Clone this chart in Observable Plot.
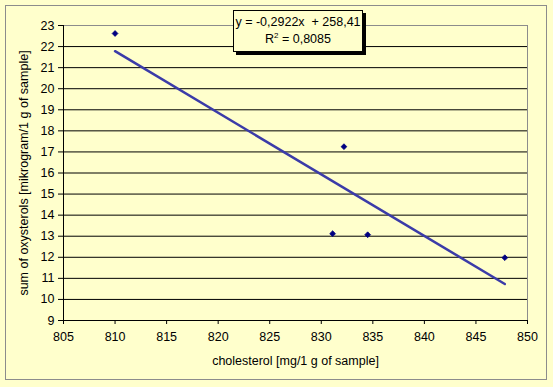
<!DOCTYPE html>
<html>
<head>
<meta charset="utf-8">
<script src="https://cdn.jsdelivr.net/npm/d3@7"></script>
<script src="https://cdn.jsdelivr.net/npm/@observablehq/plot@0.6"></script>
<style>
  html, body { margin: 0; padding: 0; background: #FFFFCC; }
  #wrap { position: relative; width: 553px; height: 387px; background: #FFFFCC; font-family: "Liberation Sans", Arial, sans-serif; }
  #outer { position: absolute; left: 5px; top: 5px; width: 542px; height: 375px; border: 1px solid #8c8c8c; box-sizing: border-box; }
  #chart { position: absolute; left: 0; top: 0; }
  #eq { position: absolute; left: 233px; top: 10px; width: 130px; height: 42px; box-sizing: border-box;
        border: 1px solid #000; background: #FFFFCC; box-shadow: 3px 3px 0 #000;
        font-size: 12.5px; line-height: 17px; text-align: center; padding-top: 3px; color: #000; }
  #eq sup { font-size: 8px; vertical-align: 5px; line-height: 0; }
</style>
</head>
<body>
<div id="wrap">
  <div id="outer"></div>
  <div id="chart"></div>
  <div id="eq"></div>
</div>
<script>
// Data
const cholesterol = [810.0, 832.2, 831.1, 834.5, 847.8];
const oxysterols  = [22.62, 17.25, 13.12, 13.07, 11.98];
const xTicks = [805, 810, 815, 820, 825, 830, 835, 840, 845, 850];
const yTicks = [9, 10, 11, 12, 13, 14, 15, 16, 17, 18, 19, 20, 21, 22, 23];
const slopeText = "-0,2922";
const interceptText = "258,41";
const r2Text = "0,8085";
const xLabel = "cholesterol [mg/1 g of sample]";
const yLabel = "sum of oxysterols [mikrogram/1 g of sample]";

const data = cholesterol.map((c, i) => ({x: c, y: oxysterols[i]}));
const innerGrid = yTicks.slice(1, -1);

const plot = Plot.plot({
  width: 553,
  height: 387,
  marginLeft: 63,
  marginRight: 26,
  marginTop: 25,
  marginBottom: 67,
  style: { background: "transparent", fontFamily: "Liberation Sans, Arial, sans-serif", fontSize: "12.5px", color: "#000" },
  x: { domain: [805, 850] },
  y: { domain: [9, 23] },
  marks: [
    Plot.frame({ stroke: "#8c8c8c" }),
    Plot.ruleY(innerGrid, { stroke: "#000", strokeWidth: 1 }),
    Plot.ruleX([805], { stroke: "#000" }),
    Plot.ruleY([9], { stroke: "#000" }),
    Plot.axisY({ ticks: yTicks, tickSize: 5, tickPadding: 4, tickFormat: d => String(d),
                 label: yLabel, labelAnchor: "center", labelArrow: "none", labelOffset: 44, stroke: "#000" }),
    Plot.axisX({ ticks: xTicks, tickSize: 4, tickPadding: 8, tickFormat: d => String(d),
                 label: xLabel, labelAnchor: "center", labelArrow: "none", labelOffset: 44, stroke: "#000" }),
    Plot.linearRegressionY(data, { x: "x", y: "y", ci: 0, stroke: "#3b3ba8", strokeWidth: 2.5 }),
    Plot.dot(data, { x: "x", y: "y", symbol: "diamond2", r: 2.6, fill: "#000080", stroke: "#000080", strokeWidth: 0.8 })
  ]
});
document.getElementById("chart").appendChild(plot);
document.getElementById("eq").innerHTML =
  `y = ${slopeText}x &nbsp;+ ${interceptText}<br>R<sup>2</sup> = ${r2Text}`;
</script>
</body>
</html>
